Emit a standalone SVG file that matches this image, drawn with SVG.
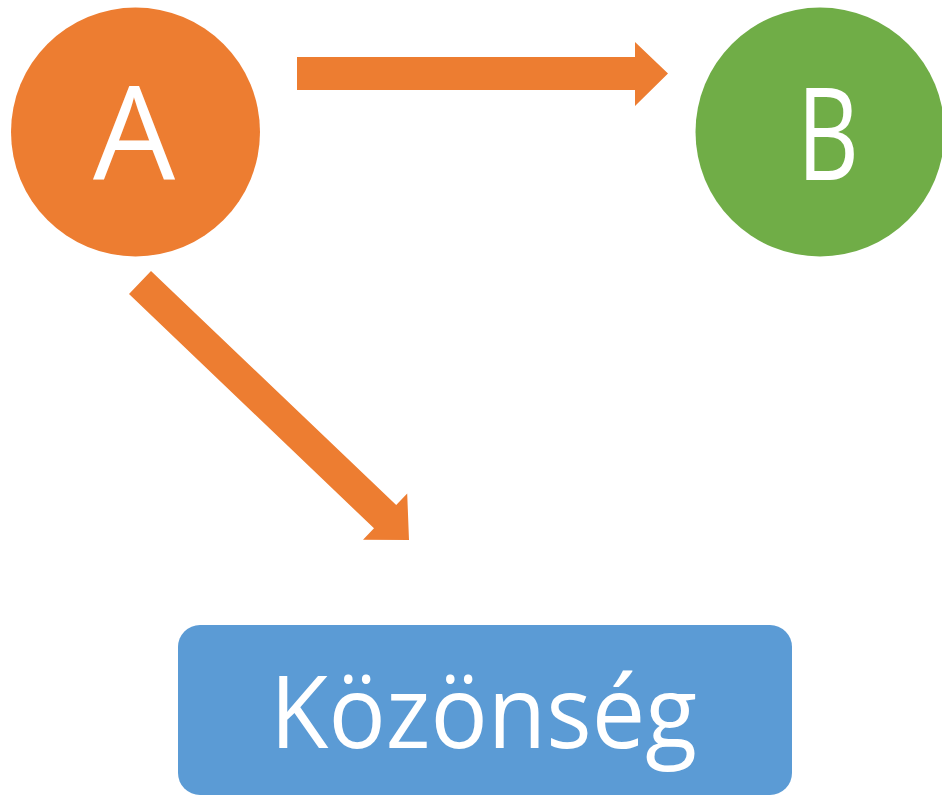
<svg xmlns="http://www.w3.org/2000/svg" width="942" height="797" viewBox="0 0 942 797">
<style>
.lbl{font-family:"Open Sans","Liberation Sans",sans-serif;fill:#FFFFFF;text-anchor:middle}
.arrow{fill:#ED7D31}
</style>
<rect width="942" height="797" fill="#FFFFFF"/>
<g id="connectors">
<polygon class="arrow" points="297,57 635,57 635,42 668,73.5 635,106 635,90 297,90"/>
<polygon class="arrow" points="151,271 396.2,505.1 407.2,493.6 409,540 363,539.8 374,528.3 129,294"/>
</g>
<g id="node-A">
<circle cx="135.5" cy="132" r="124.5" fill="#ED7D31"/>
<text class="lbl" x="134" y="180" font-size="130">A</text>
</g>
<g id="node-B">
<circle cx="820" cy="132" r="124.5" fill="#70AD47"/>
<text class="lbl" x="828" y="180" font-size="128" textLength="62" lengthAdjust="spacingAndGlyphs">B</text>
</g>
<g id="node-kozonseg">
<rect x="178" y="625" width="614" height="170" rx="22" ry="22" fill="#5B9BD5"/>
<text class="lbl" x="483.5" y="748" font-size="100" textLength="427" lengthAdjust="spacingAndGlyphs">Közönség</text>
</g>
</svg>
